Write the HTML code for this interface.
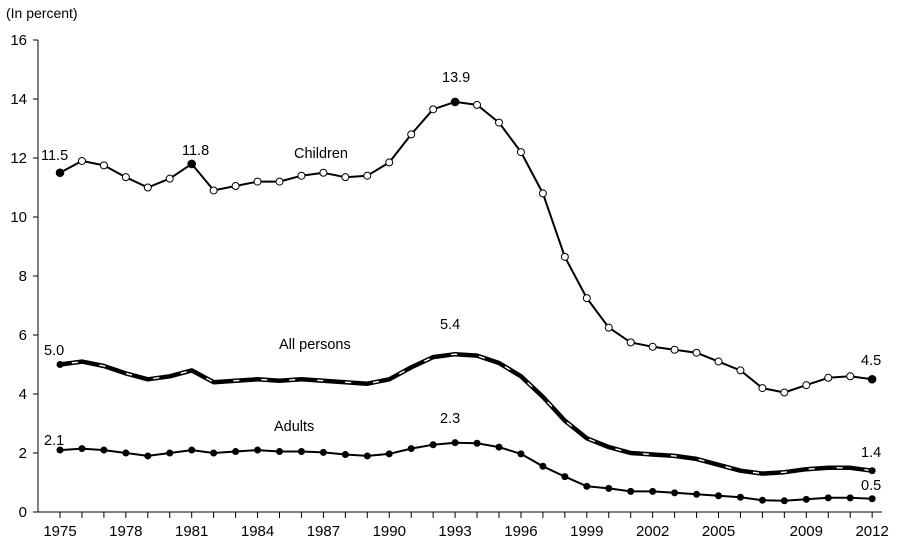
<!DOCTYPE html>
<html><head><meta charset="utf-8"><style>
body{margin:0;background:#fff}
svg{display:block;font-family:"Liberation Sans",Arial,sans-serif}
</style></head><body>
<svg id="s" width="899" height="550" xmlns="http://www.w3.org/2000/svg">
<rect width="899" height="550" fill="#fff"/>
<text x="6" y="18" font-size="14" fill="#000">(In percent)</text>
<g id="axes" stroke="#000" stroke-width="1" fill="none"></g>
<g id="lbl" font-size="15" fill="#000"></g>
<g id="ser"></g>
<g font-size="14.5" fill="#000">
<text x="294" y="158">Children</text>
<text x="279" y="349">All persons</text>
<text x="274" y="431">Adults</text>
<text x="41" y="160" >11.5</text>
<text x="182" y="155">11.8</text>
<text x="442" y="82">13.9</text>
<text x="44" y="355">5.0</text>
<text x="440" y="329">5.4</text>
<text x="44" y="445">2.1</text>
<text x="440" y="423">2.3</text>
<text x="861" y="365">4.5</text>
<text x="861" y="457">1.4</text>
<text x="861" y="490">0.5</text>
</g>
</svg>
<script>
const X=y=>60+(y-1975)*21.95, Y=v=>512-v*29.5;
const ax=document.getElementById('axes'),lb=document.getElementById('lbl'),sr=document.getElementById('ser');
let h='<line x1="38" y1="40" x2="38" y2="512"/><line x1="38" y1="512" x2="882" y2="512"/>';
let t='';
for(let v=0;v<=16;v+=2){h+=`<line x1="33" y1="${Y(v)}" x2="38" y2="${Y(v)}"/>`;t+=`<text x="27" y="${Y(v)+5}" text-anchor="end">${v}</text>`;}
for(let y=1975;y<=2012;y++){h+=`<line x1="${X(y)}" y1="512" x2="${X(y)}" y2="518"/>`;}
[1975,1978,1981,1984,1987,1990,1993,1996,1999,2002,2005,2009,2012].forEach(y=>t+=`<text x="${X(y)}" y="536" text-anchor="middle">${y}</text>`);
ax.innerHTML=h;lb.innerHTML=t;
const C=[11.5,11.9,11.75,11.35,11.0,11.3,11.8,10.9,11.05,11.2,11.2,11.4,11.5,11.35,11.4,11.85,12.8,13.65,13.9,13.8,13.2,12.2,10.8,8.65,7.25,6.25,5.75,5.6,5.5,5.4,5.1,4.8,4.2,4.05,4.3,4.55,4.6,4.5];
const A=[5.0,5.1,4.95,4.7,4.5,4.6,4.8,4.4,4.45,4.5,4.45,4.5,4.45,4.4,4.35,4.5,4.9,5.25,5.35,5.3,5.05,4.6,3.9,3.1,2.5,2.2,2.0,1.95,1.9,1.8,1.6,1.4,1.3,1.35,1.45,1.5,1.5,1.4];
const D=[2.1,2.15,2.1,2.0,1.9,2.0,2.1,2.0,2.05,2.1,2.05,2.05,2.02,1.95,1.9,1.97,2.15,2.28,2.35,2.33,2.2,1.97,1.55,1.2,0.87,0.8,0.7,0.7,0.65,0.6,0.55,0.5,0.4,0.38,0.43,0.48,0.48,0.45];
const pts=a=>a.map((v,i)=>X(1975+i).toFixed(1)+','+Y(v).toFixed(1)).join(' ');
let s='';
s+=`<polyline points="${pts(A)}" fill="none" stroke="#000" stroke-width="4.5" stroke-linejoin="round"/>`;
s+=`<polyline points="${pts(A)}" fill="none" stroke="#fff" stroke-width="1.4" stroke-dasharray="6 22" stroke-dashoffset="-12"/>`;
s+=`<circle cx="${X(1975)}" cy="${Y(5.0)}" r="3.5" fill="#000"/><circle cx="${X(2012)}" cy="${Y(1.4)}" r="3.5" fill="#000"/>`;
s+=`<polyline points="${pts(D)}" fill="none" stroke="#000" stroke-width="2"/>`;
D.forEach((v,i)=>s+=`<circle cx="${X(1975+i)}" cy="${Y(v)}" r="3.5" fill="#000"/>`);
s+=`<polyline points="${pts(C)}" fill="none" stroke="#000" stroke-width="2" stroke-linejoin="round"/>`;
const F=[0,6,18,37];
C.forEach((v,i)=>{const f=F.includes(i);s+=`<circle cx="${X(1975+i)}" cy="${Y(v)}" r="${f?3.8:3.5}" fill="${f?'#000':'#fff'}" stroke="#000" stroke-width="1"/>`;});
sr.innerHTML=s;
</script>
</body></html>
